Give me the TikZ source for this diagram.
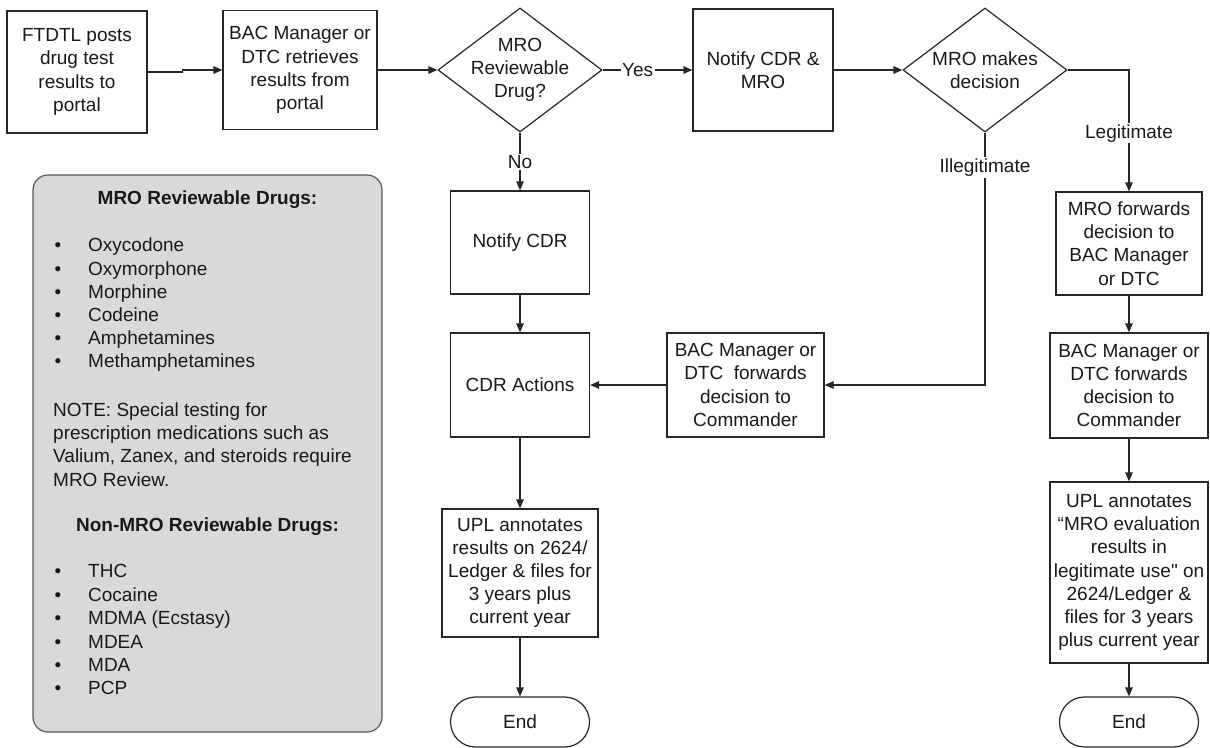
\documentclass[tikz,border=0pt]{standalone}
\usepackage{fontspec}
\setmainfont{Liberation Sans}
\usetikzlibrary{arrows.meta,shapes.geometric,shapes.misc}
\begin{document}
\begin{tikzpicture}[x=1pt,y=-1pt,
  every node/.style={font=\fontsize{19}{23.2}\selectfont, text=black!90},
  box/.style={draw=black!85, line width=1.2pt, fill=white, align=center, inner sep=0pt},
  dec/.style={diamond, draw=black!85, line width=1.2pt, inner sep=0pt, minimum width=164pt, minimum height=124pt},
  term/.style={rounded rectangle, draw=black!85, line width=1.2pt, minimum width=139pt, minimum height=50pt, inner sep=0pt},
  conn/.style={draw=black!85, line width=1.2pt, -{Triangle[length=9pt,width=7.5pt]}},
  edgelab/.style={fill=white, inner sep=1.5pt},
  listtext/.style={anchor=west, inner sep=0pt, text height=13.6pt, text depth=4pt},
  bold/.style={font=\bfseries\fontsize{19}{23.2}\selectfont}
]
\useasboundingbox (0,0) rectangle (1210,747);

% legend box
\node[draw=black!65, fill=black!15, rounded corners=15pt, line width=1.2pt,
      minimum width=349pt, minimum height=557pt, inner sep=0pt] (legend) at (207.5,453.5) {};
\node[bold] (t1) at (207.5,200) {MRO Reviewable Drugs:};
\foreach \d [count=\i] in {Oxycodone,Oxymorphone,Morphine,Codeine,Amphetamines,Methamphetamines}{
  \node[listtext, anchor=center] (mb\i) at (58,{247+(\i-1)*23.2}) {\textbullet};
  \node[listtext] (md\i) at (88,{247+(\i-1)*23.2}) {\d};
}
\node[anchor=west, align=left, inner sep=0pt] (note) at (53,444.5)
  {NOTE: Special testing for\\prescription medications such as\\Valium, Zanex, and steroids require\\MRO Review.};
\node[bold] (t2) at (207.5,527) {Non-MRO Reviewable Drugs:};
\foreach \d [count=\i] in {THC,Cocaine,MDMA (Ecstasy),MDEA,MDA,PCP}{
  \node[listtext, anchor=center] (nb\i) at (58,{573+(\i-1)*23.4}) {\textbullet};
  \node[listtext] (nd\i) at (88,{573+(\i-1)*23.4}) {\d};
}

% flow nodes
\node[box, minimum width=140pt, minimum height=122pt] (ftdtl) at (77,72) {FTDTL posts\\drug test\\results to\\portal};
\node[box, minimum width=154pt, minimum height=119pt] (retr) at (300,70) {BAC Manager or\\DTC retrieves\\results from\\portal};
\node[dec, label={[align=center]center:{MRO\\Reviewable\\Drug?}}] (rev) at (520,70) {};
\node[box, minimum width=140pt, minimum height=122pt] (notboth) at (763,70) {Notify CDR \&\\MRO};
\node[dec, label={[align=center]center:{MRO makes\\decision}}] (dec) at (985,70) {};
\node[box, minimum width=146pt, minimum height=103pt] (mrofw) at (1129,243.5) {MRO forwards\\decision to\\BAC Manager\\or DTC};
\node[box, minimum width=158pt, minimum height=105pt] (bacfwR) at (1129,385.5) {BAC Manager or\\DTC forwards\\decision to\\Commander};
\node[box, minimum width=158pt, minimum height=181pt] (uplR) at (1129,572.5) {UPL annotates\\“MRO evaluation\\results in\\legitimate use\textquotedbl{} on\\2624/Ledger \&\\files for 3 years\\plus current year};
\node[term] (endR) at (1129,722) {End};
\node[box, minimum width=139pt, minimum height=103pt] (ncdr) at (520,242.5) {Notify CDR};
\node[box, minimum width=139pt, minimum height=104pt] (cdra) at (520,385) {CDR Actions};
\node[box, minimum width=157pt, minimum height=104pt] (bacfwL) at (745.5,385) {BAC Manager or\\DTC\ \ forwards\\decision to\\Commander};
\node[box, minimum width=156pt, minimum height=128pt] (uplL) at (520,573) {UPL annotates\\results on 2624/\\Ledger \& files for\\3 years plus\\current year};
\node[term] (endL) at (520,722) {End};

% connectors
\draw[conn] (ftdtl.east) -- ++(35,0) |- (retr.west);
\draw[conn] (retr.east) -- (rev.west);
\draw[conn] (rev.east) -- node[edgelab,pos=0.39]{Yes} (notboth.west);
\draw[conn] (notboth.east) -- (dec.west);
\draw[conn] (dec.east) -| node[edgelab,pos=0.76]{Legitimate} (mrofw.north);
\draw[conn] (dec.south) |- node[edgelab,pos=0.069]{Illegitimate} (bacfwL.east);
\draw[conn] (rev.south) -- node[edgelab,pos=0.51]{No} (ncdr.north);
\draw[conn] (ncdr.south) -- (cdra.north);
\draw[conn] (bacfwL.west) -- (cdra.east);
\draw[conn] (cdra.south) -- (uplL.north);
\draw[conn] (uplL.south) -- (endL.north);
\draw[conn] (mrofw.south) -- (bacfwR.north);
\draw[conn] (bacfwR.south) -- (uplR.north);
\draw[conn] (uplR.south) -- (endR.north);
\end{tikzpicture}
\end{document}
